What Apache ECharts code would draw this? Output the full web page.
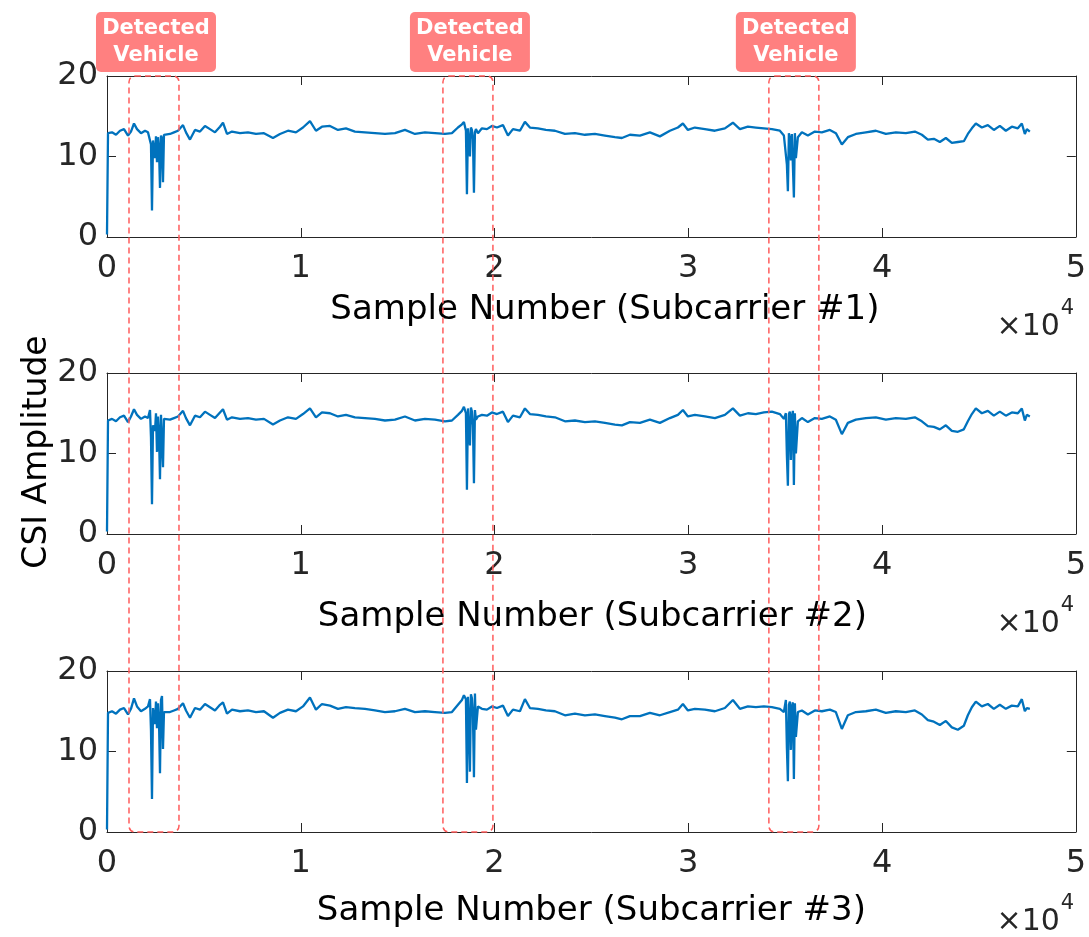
<!DOCTYPE html>
<html>
<head>
<meta charset="utf-8">
<script src="https://cdn.jsdelivr.net/npm/echarts@6/dist/echarts.min.js"></script>
<style>
html,body{margin:0;padding:0;background:#fff;}
#chart{width:1089px;height:937px;}
</style>
</head>
<body>
<div id="chart"></div>
<script>
// ---- data (sample index, CSI amplitude for three subcarriers) ----
const sampleIdx = [
0,52,258,464,671,877,1084,1238,1393,1548,
1754,1961,2116,2219,2270,2322,2374,2477,2528,2580,
2632,2683,2735,2786,2838,2890,2941,3044,3251,3457,
3664,3922,4076,4283,4541,4799,5057,5315,5573,5831,
5986,6192,6450,6863,7276,7688,8101,8566,8927,9340,
9752,10114,10475,10784,11094,11507,11920,12332,12797,13313,
13829,14345,14861,15377,15893,16409,16925,17441,17802,18112,
18318,18421,18524,18576,18628,18679,18731,18782,18834,18886,
18938,18989,19041,19144,19350,19608,19866,20124,20434,20692,
20950,21311,21569,21827,22240,22652,23117,23633,24149,24665,
25181,25697,26213,26574,26987,27503,28019,28535,29051,29464,
29722,29980,30341,30857,31373,31889,32302,32663,33076,33488,
33901,34314,34727,34934,35037,35088,35140,35192,35243,35295,
35346,35398,35450,35501,35553,35656,35862,36172,36533,36894,
37307,37616,37926,38236,38648,39164,39680,40196,40712,41228,
41693,42054,42364,42673,42983,43292,43602,43912,44221,44428,
44634,44840,45150,45460,45769,46079,46388,46698,47008,47214,
47369,47472,47627];

const csiSub1 = [
0.3,12.9,13.0,12.7,13.2,13.4,12.6,13.1,14.1,13.4,
12.9,13.2,13.0,12.9,11.5,3.3,12.0,9.8,12.5,9.3,
12.4,11.0,6.1,12.6,12.3,6.8,12.7,12.9,12.8,13.0,
13.2,13.9,13.0,12.1,13.3,13.1,13.8,13.4,13.0,13.7,
14.2,12.8,13.1,12.9,13.0,12.8,12.9,12.3,12.8,13.2,
13.0,13.6,14.4,13.2,13.7,13.8,13.3,13.5,13.1,13.0,
12.9,12.8,12.9,13.3,12.8,13.0,12.9,12.8,12.9,13.6,
14.0,14.3,13.2,5.3,13.5,12.0,10.0,13.6,13.3,12.2,
5.5,13.0,13.4,12.9,13.5,13.4,13.8,13.6,13.9,12.6,
13.4,13.2,14.3,13.6,13.5,13.3,13.2,12.8,12.9,12.7,
12.8,12.6,12.4,12.3,12.7,12.6,13.0,12.5,13.2,13.6,
14.1,13.3,13.6,13.4,13.2,13.5,14.2,13.4,13.7,13.6,
13.5,13.4,13.2,12.6,12.5,9.0,5.7,12.9,12.2,9.5,
12.8,13.0,4.9,12.9,9.8,12.4,13.0,12.6,13.1,13.0,
13.3,12.9,11.5,12.4,12.8,13.0,13.2,12.8,13.0,12.9,
13.1,12.7,12.1,12.2,11.8,12.3,11.7,11.8,11.9,12.8,
13.5,14.1,13.6,13.9,13.3,13.8,13.2,13.7,13.5,14.1,
12.8,13.4,13.1];

const csiSub2 = [
0.3,14.1,14.3,14.0,14.5,14.7,13.9,14.6,15.5,14.8,
14.3,14.6,14.4,15.4,12.0,3.7,13.5,12.8,15.0,10.2,
14.6,12.4,6.8,14.8,14.9,8.3,14.3,14.1,14.2,14.4,
14.6,15.3,14.4,13.5,14.7,14.5,15.2,14.8,14.4,15.1,
15.5,14.2,14.5,14.3,14.4,14.2,14.3,13.6,14.1,14.5,
14.3,14.9,15.6,14.5,15.1,15.0,14.6,14.8,14.5,14.4,
14.3,14.1,14.2,14.6,14.1,14.3,14.2,14.0,14.1,14.8,
15.3,15.8,15.0,5.5,15.6,13.2,11.0,15.7,15.2,13.5,
6.3,15.4,14.2,14.6,14.8,14.7,15.1,14.9,15.2,13.9,
14.7,14.5,15.6,14.9,14.8,14.6,14.5,14.0,14.1,13.9,
14.0,13.8,13.6,13.5,13.9,13.8,14.2,13.8,14.4,14.8,
15.4,14.6,14.8,14.6,14.4,14.8,15.6,14.7,15.0,14.9,
15.1,15.2,14.9,14.3,15.0,9.8,6.0,14.9,15.2,9.2,
14.6,15.3,6.1,15.0,10.0,14.0,14.4,13.9,14.4,14.3,
14.6,14.2,12.4,13.8,14.2,14.4,14.5,14.2,14.4,14.3,
14.5,14.0,13.4,13.3,13.0,13.5,12.8,12.7,13.0,14.0,
14.9,15.6,15.0,15.3,14.7,15.2,14.7,15.1,15.0,15.6,
14.1,14.8,14.6];

const csiSub3 = [
0.3,14.8,15.0,14.7,15.2,15.4,14.6,15.3,16.6,15.6,
15.0,15.3,15.6,16.5,12.6,4.1,15.4,13.4,16.2,12.9,
16.0,13.8,7.3,16.4,16.9,10.3,14.9,15.0,14.9,15.1,
15.3,16.0,15.1,14.2,15.4,15.2,15.9,15.5,15.1,15.8,
16.1,14.7,15.2,15.0,15.1,14.9,15.0,14.2,14.8,15.2,
15.0,15.6,16.7,15.2,15.9,15.7,15.3,15.5,15.4,15.3,
15.1,14.9,15.0,15.3,14.9,15.0,14.9,14.8,14.9,15.8,
16.4,17.0,16.5,6.1,16.8,14.0,7.5,17.1,16.6,14.5,
6.8,17.2,12.7,15.6,15.3,15.2,15.6,15.4,15.7,14.4,
15.2,15.0,16.5,15.4,15.3,15.1,15.0,14.5,14.7,14.5,
14.6,14.4,14.2,14.0,14.4,14.4,14.8,14.5,14.9,15.2,
15.9,15.1,15.3,15.2,15.0,15.4,16.4,15.3,15.6,15.5,
15.6,15.5,15.3,14.9,16.4,10.5,6.3,15.8,16.2,10.2,
15.6,16.1,6.6,16.0,11.8,14.9,15.1,14.6,15.1,15.0,
15.2,14.9,12.8,14.5,14.9,15.0,15.2,14.8,15.0,14.9,
15.1,14.6,13.9,13.7,13.3,13.8,13.0,12.7,13.2,14.5,
15.5,16.2,15.6,15.9,15.3,15.8,15.3,15.7,15.6,16.5,
15.0,15.4,15.3];

const subcarrierNames = ['Sample Number (Subcarrier #1)','Sample Number (Subcarrier #2)','Sample Number (Subcarrier #3)'];
const yAxisTitle = 'CSI Amplitude';
const xTickValues = [0,10000,20000,30000,40000,50000];
const yTickValues = [0,10,20];
const vehicleWindows = [[1135,3715],[17337,19917],[34159,36739]];
const vehicleLabel = 'Detected\nVehicle';

// ---- layout ----
const FONT = 'DejaVu Sans';
const AX = '#262626';
const gridTops = [76, 373, 671];
const gridH = 161;
const nameGaps = [56, 66, 62];
const namePad = [[0,0,0,27],[0,0,0,2],[0,0,0,0]];

const chart = echarts.init(document.getElementById('chart'), null, {renderer:'canvas'});
const series = [csiSub1, csiSub2, csiSub3];

const grids = [], xAxes = [], yAxes = [], ser = [];
gridTops.forEach((t,i)=>{
  grids.push({left:107, width:969, top:t, height:gridH, containLabel:false});
  xAxes.push({
    type:'value', gridIndex:i, min:0, max:50000, interval:10000, position:'bottom',
    name:subcarrierNames[i], nameLocation:'middle', nameGap:nameGaps[i],
    nameTextStyle:{fontFamily:FONT, fontSize:34, color:'#000', padding:namePad[i]},
    axisLine:{show:true, onZero:false, lineStyle:{color:AX, width:1}},
    axisTick:{show:true, inside:true, length:9, lineStyle:{color:AX}},
    axisLabel:{show:true, margin:16, fontFamily:FONT, fontSize:32, color:AX,
      formatter:v=>String(v/10000)},
    splitLine:{show:false}
  });
  xAxes.push({
    type:'value', gridIndex:i, min:0, max:50000, interval:10000, position:'top',
    axisLine:{show:true, onZero:false, lineStyle:{color:AX, width:1}},
    axisTick:{show:true, inside:true, length:9, lineStyle:{color:AX}},
    axisLabel:{show:false}, splitLine:{show:false}
  });
  yAxes.push({
    type:'value', gridIndex:i, min:0, max:20, interval:10, position:'left',
    axisLine:{show:true, onZero:false, lineStyle:{color:AX, width:1}},
    axisTick:{show:true, inside:true, length:9, lineStyle:{color:AX}},
    axisLabel:{show:true, margin:9, fontFamily:FONT, fontSize:32, color:AX},
    splitLine:{show:false}
  });
  yAxes.push({
    type:'value', gridIndex:i, min:0, max:20, interval:10, position:'right',
    axisLine:{show:true, onZero:false, lineStyle:{color:AX, width:1}},
    axisTick:{show:true, inside:true, length:9, lineStyle:{color:AX}},
    axisLabel:{show:false}, splitLine:{show:false}
  });
  ser.push({
    type:'line', xAxisIndex:2*i, yAxisIndex:2*i, showSymbol:false, symbol:'none',
    data: sampleIdx.map((s,k)=>[s, series[i][k]]),
    lineStyle:{color:'#0072BD', width:2.3}, z:3
  });
});

chart.setOption({
  animation:false,
  backgroundColor:'#fff',
  grid:grids, xAxis:xAxes, yAxis:yAxes, series:ser
});

// ---- annotations ----
const gfx = [];
gfx.push({type:'text', x:37, y:452, rotation:Math.PI/2,
  style:{text:yAxisTitle, fontFamily:FONT, fontSize:33, fill:'#000', textAlign:'center', textVerticalAlign:'middle'}});

gridTops.forEach((t,i)=>{
  const xr = chart.convertToPixel({xAxisIndex:2*i}, 50000);
  const yb = chart.convertToPixel({yAxisIndex:2*i}, 0);
  gfx.push({type:'text', x:xr-16, y:yb+90,
    style:{text:'×10', fontFamily:FONT, fontSize:30, fill:AX, textAlign:'right', textVerticalAlign:'middle'}});
  gfx.push({type:'text', x:xr-15, y:yb+72,
    style:{text:'4', fontFamily:FONT, fontSize:21, fill:AX, textAlign:'left', textVerticalAlign:'middle'}});
});

const yTop = chart.convertToPixel({yAxisIndex:0}, 20);
const yBot = chart.convertToPixel({yAxisIndex:4}, 0);
vehicleWindows.forEach(w=>{
  const x0 = chart.convertToPixel({xAxisIndex:0}, w[0]);
  const x1 = chart.convertToPixel({xAxisIndex:0}, w[1]);
  gfx.push({type:'rect', z:10,
    shape:{x:x0, y:yTop, width:x1-x0, height:yBot-yTop, r:6},
    style:{fill:null, stroke:'#FF5C5C', lineWidth:1.5, lineDash:[6,4]}});
  const cx = (x0+x1)/2 + 2;
  gfx.push({type:'rect', z:10,
    shape:{x:cx-60, y:12, width:120, height:60, r:5},
    style:{fill:'#FF8080', stroke:null}});
  gfx.push({type:'text', z:11, x:cx, y:42,
    style:{text:vehicleLabel, fontFamily:FONT, fontWeight:'bold', fontSize:21, lineHeight:27,
      fill:'#fff', textAlign:'center', textVerticalAlign:'middle'}});
});

chart.setOption({graphic:gfx});
</script>
</body>
</html>
